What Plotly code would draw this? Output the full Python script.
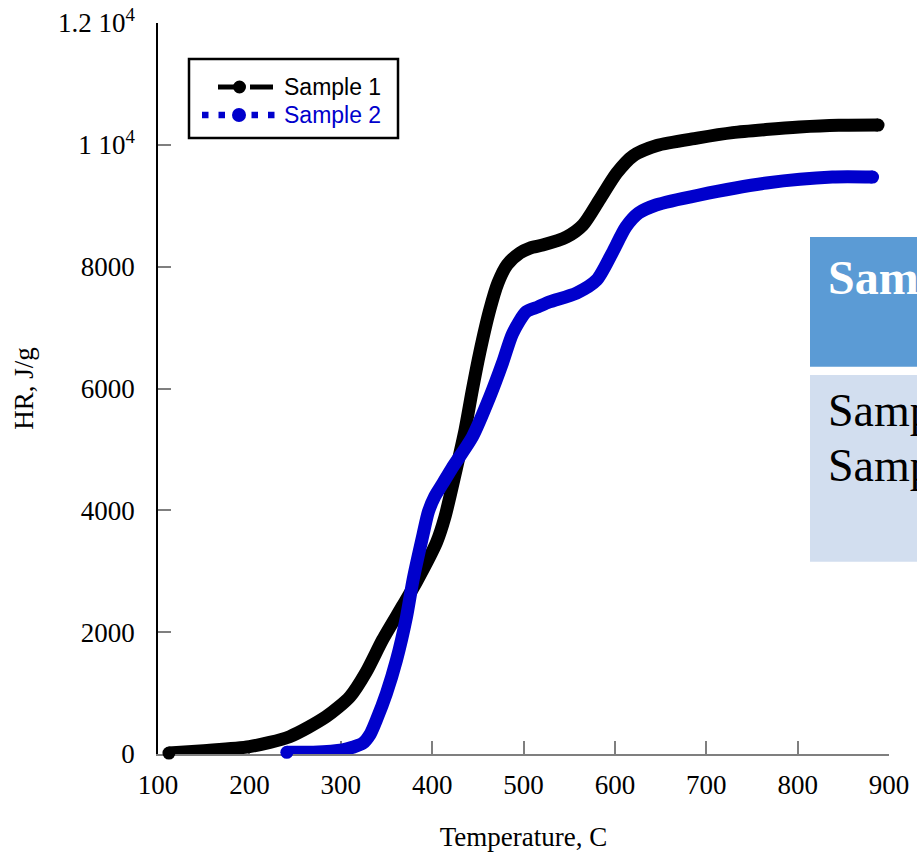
import plotly.graph_objects as go

# ---------------- data ----------------
s1_temp = [112, 150, 200, 244, 284, 310, 328, 346, 368, 383, 405, 414, 426, 436, 444, 452, 463, 472, 482,
           496, 507, 521, 547, 565, 583, 602, 620, 646, 690, 729, 765, 802, 845, 888]
s1_hr = [15, 55, 120, 284, 612, 940, 1350, 1880, 2440, 2830, 3480, 3890, 4650, 5318, 5975, 6582, 7288, 7732, 8030,
         8224, 8306, 8355, 8487, 8684, 9094, 9537, 9820, 9990, 10110, 10200, 10250, 10292, 10320, 10325]

s2_temp = [241, 270, 302, 313, 324, 332, 339, 350, 361, 372, 379, 390, 396, 403, 412, 422, 444, 463, 477, 488, 503,
           516, 528, 558, 580, 597, 612, 626, 645, 692, 766, 838, 882]
s2_hr = [28, 30, 66, 110, 175, 320, 558, 996, 1543, 2254, 2850, 3600, 3980, 4230, 4450, 4700, 5204, 5860, 6418, 6900,
         7260, 7340, 7420, 7567, 7781, 8224, 8651, 8880, 9012, 9176, 9373, 9471, 9471]

series_names = ["Sample 1", "Sample 2"]
x_tickvals = [100, 200, 300, 400, 500, 600, 700, 800, 900]
y_tickvals = [0, 2000, 4000, 6000, 8000, 10000, 12000]
y_ticktext = ["0", "2000", "4000", "6000", "8000", "1 10<sup>4</sup>", "1.2 10<sup>4</sup>"]
table_header = "Sample"
table_rows = ["Sample 1", "Sample 2"]

# ---------------- layout geometry ----------------
W, H = 917, 855
ML, MR, MT, MB = 158, 28, 23, 101
PW, PH = W - ML - MR, H - MT - MB


def px(xpix):
    return (xpix - ML) / PW


def py(ypix):
    return (H - MB - ypix) / PH


def end_caps(n, size):
    return [size] + [0] * (n - 2) + [size]


BLACK = "#000000"
BLUE = "#0000cc"
SERIF = "Liberation Serif, Times New Roman, serif"
SANS = "Liberation Sans, Arial, sans-serif"

fig = go.Figure()
fig.add_trace(go.Scatter(x=s1_temp, y=s1_hr, name=series_names[0], mode="lines+markers",
                         line=dict(color=BLACK, width=13, shape="spline", smoothing=0.7),
                         marker=dict(color=BLACK, size=end_caps(len(s1_temp), 13), opacity=1,
                                     line=dict(width=0)),
                         cliponaxis=False, showlegend=False))
fig.add_trace(go.Scatter(x=s2_temp, y=s2_hr, name=series_names[1], mode="lines+markers",
                         line=dict(color=BLUE, width=13, shape="spline", smoothing=0.7),
                         marker=dict(color=BLUE, size=end_caps(len(s2_temp), 13), opacity=1,
                                     line=dict(width=0)),
                         cliponaxis=False, showlegend=False))

shapes = []
# legend box
shapes.append(dict(type="rect", xref="paper", yref="paper", x0=px(189), x1=px(398), y0=py(138), y1=py(59),
                   line=dict(color=BLACK, width=2.5), fillcolor="white", layer="above"))
# legend entry 1 symbol
shapes.append(dict(type="line", xref="paper", yref="paper", x0=px(218), x1=px(236), y0=py(87), y1=py(87),
                   line=dict(color=BLACK, width=5), layer="above"))
shapes.append(dict(type="line", xref="paper", yref="paper", x0=px(250), x1=px(273), y0=py(87), y1=py(87),
                   line=dict(color=BLACK, width=5), layer="above"))
shapes.append(dict(type="circle", xref="paper", yref="paper", x0=px(233), x1=px(246), y0=py(93.5), y1=py(80.5),
                   line=dict(color=BLACK, width=0), fillcolor=BLACK, layer="above"))
# legend entry 2 symbol
shapes.append(dict(type="line", xref="paper", yref="paper", x0=px(202), x1=px(275), y0=py(115), y1=py(115),
                   line=dict(color=BLUE, width=6.5, dash="6.5px,10px"), layer="above"))
shapes.append(dict(type="circle", xref="paper", yref="paper", x0=px(232), x1=px(246), y0=py(122), y1=py(108),
                   line=dict(color=BLUE, width=0), fillcolor=BLUE, layer="above"))
# table (partly outside the picture)
shapes.append(dict(type="rect", xref="paper", yref="paper", x0=px(810), x1=px(1000), y0=py(366.7), y1=py(237),
                   line=dict(width=0), fillcolor="#5b9bd5", layer="above"))
shapes.append(dict(type="rect", xref="paper", yref="paper", x0=px(810), x1=px(1000), y0=py(561.7), y1=py(375),
                   line=dict(width=0), fillcolor="#d2deef", layer="above"))

annotations = [
    dict(text=series_names[0], xref="paper", yref="paper", x=px(282), y=py(87), xanchor="left", yanchor="middle",
         showarrow=False, font=dict(family=SANS, size=23, color=BLACK)),
    dict(text=series_names[1], xref="paper", yref="paper", x=px(282), y=py(115), xanchor="left", yanchor="middle",
         showarrow=False, font=dict(family=SANS, size=23, color=BLUE)),
    dict(text="<b>" + table_header + "</b>", xref="paper", yref="paper", x=px(826), y=py(277), xanchor="left",
         yanchor="middle", showarrow=False, font=dict(family=SERIF, size=48, color="white")),
    dict(text=table_rows[0], xref="paper", yref="paper", x=px(826), y=py(411), xanchor="left",
         yanchor="middle", showarrow=False, font=dict(family=SERIF, size=46, color=BLACK)),
    dict(text=table_rows[1], xref="paper", yref="paper", x=px(826), y=py(465), xanchor="left",
         yanchor="middle", showarrow=False, font=dict(family=SERIF, size=46, color=BLACK)),
]

fig.update_layout(
    width=W, height=H,
    margin=dict(l=ML, r=MR, t=MT, b=MB, pad=0, autoexpand=False),
    paper_bgcolor="white", plot_bgcolor="white",
    showlegend=False,
    shapes=shapes,
    annotations=annotations,
    xaxis=dict(range=[100, 900], tickvals=x_tickvals, ticks="inside", ticklen=13, tickwidth=1.5,
               tickcolor="#7f7f7f", showline=True, linecolor="#7f7f7f", linewidth=1.5, showgrid=False,
               zeroline=False, layer="below traces", ticklabelstandoff=6, automargin=False,
               tickfont=dict(family=SERIF, size=27, color=BLACK),
               title=dict(text="Temperature, C", font=dict(family=SERIF, size=27, color=BLACK), standoff=28)),
    yaxis=dict(range=[0, 12000], tickvals=y_tickvals, ticktext=y_ticktext, ticks="inside", ticklen=13,
               tickwidth=1.5, tickcolor="#7f7f7f", showline=True, linecolor=BLACK, linewidth=1.5,
               showgrid=False, zeroline=False, layer="below traces", ticklabelstandoff=16, automargin=False,
               tickfont=dict(family=SERIF, size=27, color=BLACK),
               title=dict(text="HR, J/g", font=dict(family=SERIF, size=27, color=BLACK), standoff=16)),
)

fig.write_html("out.html", config={"displayModeBar": False},
               post_script="document.body.style.margin='0';document.body.style.overflow='hidden';")
